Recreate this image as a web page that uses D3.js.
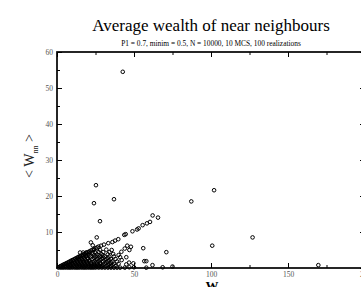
<!DOCTYPE html>
<html>
<head>
<meta charset="utf-8">
<script src="https://cdn.jsdelivr.net/npm/d3@7"></script>
<style>
  body { margin: 0; background: #fff; }
  svg { display: block; }
  text { font-family: "Liberation Serif", "DejaVu Serif", serif; }
</style>
</head>
<body>
<div class="chart"></div>
<script>
// values: [W, <Wnn>]
var outliers = [
    [42.7, 54.5], [25.3, 23.0], [24, 18], [37, 19.1], [27.9, 13], [25.8, 8.5],
    [87.2, 18.5], [102, 21.6], [100.8, 6.2], [71, 4.4], [127, 8.5], [169.7, 0.8],
    [62.1, 14.6], [65.6, 14.0], [62, 0.8], [68.6, 0.2], [75, 0.4]
];
var upperRay = [
    [2, 0.45], [3, 0.66], [4, 0.9], [5, 1.1], [6, 1.3], [7, 1.55], [8, 1.75], [9, 2.0],
    [10, 2.2], [11, 2.4], [12, 2.65], [13, 2.85], [14, 3.1], [15, 3.3], [16, 3.5],
    [17, 3.75], [18, 3.95], [19, 4.2], [20, 4.4], [21, 4.6], [22, 4.85], [23, 5.05],
    [24, 5.3], [25, 5.5], [26, 5.7], [27, 5.95], [28.6, 6.2], [30.5, 6.5], [33.3, 6.9],
    [36, 7.2], [37.7, 7.6], [39.8, 8], [43.7, 9.2], [44.6, 9.4], [49, 10.2], [52, 10.7],
    [53, 11], [55.6, 11.9], [58.4, 12.4], [60.4, 12.8]
];
var wedge = [
    [1, 0.1], [2.5, 0.1], [4, 0.1], [5.5, 0.1], [7, 0.1], [8.5, 0.1], [10, 0.1], [11.5, 0.1],
    [13, 0.1], [14.5, 0.1], [16, 0.1], [17.5, 0.1], [19, 0.1], [20.5, 0.1], [22, 0.1],
    [23.5, 0.1], [25, 0.1], [27, 0.1], [29, 0.1], [31, 0.1], [33, 0.1], [35, 0.1], [37, 0.1],
    [39, 0.1], [41, 0.1], [44, 0.1], [47, 0.2], [50, 0.2], [58, 0.1],
    [2, 0.35], [4, 0.35], [6, 0.35], [8, 0.35], [10, 0.35], [12, 0.35], [14, 0.35], [16, 0.35],
    [18, 0.35], [20, 0.35], [22, 0.35], [24, 0.35], [26, 0.35], [28, 0.35], [30, 0.35], [34, 0.35],
    [3, 0.6], [5, 0.6], [7, 0.6], [9, 0.6], [11, 0.6], [13, 0.6], [15, 0.6], [17, 0.6],
    [19, 0.6], [21, 0.6], [23, 0.6], [25, 0.6], [27, 0.6], [29, 0.6], [32, 0.6], [35, 0.6], [38, 0.6],
    [4.5, 0.9], [6.5, 0.9], [8.5, 0.9], [10.5, 0.9], [12.5, 0.9], [14.5, 0.9], [16.5, 0.9],
    [18.5, 0.9], [20.5, 0.9], [22.5, 0.9], [24.5, 0.9], [27, 0.9], [30, 0.9], [33, 0.9], [36, 0.9],
    [6, 1.2], [8, 1.2], [10, 1.2], [12, 1.2], [14, 1.2], [16, 1.2], [18, 1.2], [20, 1.2],
    [22, 1.2], [24, 1.2], [26, 1.2], [28, 1.2], [31, 1.2], [34, 1.2], [37, 1.2], [40, 1.2], [45, 1.0],
    [7.5, 1.5], [9.5, 1.5], [11.5, 1.5], [13.5, 1.5], [15.5, 1.5], [17.5, 1.5], [19.5, 1.5],
    [22, 1.5], [25, 1.5], [28, 1.5], [32, 1.5], [35, 1.5],
    [9, 1.8], [11, 1.8], [13, 1.8], [15, 1.8], [17, 1.8], [19, 1.8], [21, 1.8], [24, 1.8],
    [27, 1.8], [30, 1.8], [33, 1.8], [36, 1.8], [39, 1.8], [46.8, 1.5], [49.6, 1.3],
    [10.5, 2.15], [12.5, 2.15], [14.5, 2.15], [16.5, 2.15], [18.5, 2.15], [21, 2.15], [25, 2.15],
    [28, 2.15], [31, 2.15], [34, 2.15],
    [12, 2.5], [14, 2.5], [16, 2.5], [18, 2.5], [20, 2.5], [23, 2.5], [26, 2.5], [29, 2.5],
    [32, 2.5], [35, 2.5], [38, 2.5], [42, 2.2], [56.7, 1.9], [58, 1.9],
    [13.5, 2.85], [15.5, 2.85], [17.5, 2.85], [20, 2.85], [24, 2.85], [27, 2.85], [30, 2.85], [33, 2.85],
    [15, 3.2], [17, 3.2], [19, 3.2], [22, 3.2], [25, 3.2], [28, 3.2], [31, 3.2], [34, 3.2],
    [37, 3.2], [41, 3.0], [45, 3.0],
    [16.5, 3.5], [19, 3.5], [21, 3.5], [24, 3.5], [27, 3.5], [30, 3.5],
    [18, 3.8], [20, 3.8], [23, 3.8], [26, 3.8], [29, 3.8], [33, 3.8], [36.5, 3.9], [40, 3.6],
    [15, 4.3], [17, 4.3], [19, 4.3], [21, 4.3], [23, 4.3], [25, 4.3], [27, 4.5], [30, 4.4],
    [34, 4.4], [41.8, 4.5], [24, 5.0], [28, 5.0], [32, 5.1], [35.5, 5.0], [44, 5.4],
    [47, 5.0], [45.6, 6.2], [48, 5.9], [56, 5.5], [22, 7.1], [23.2, 6.3]
];
var xMajor = [0, 50, 100, 150, 200];
var xMinor = [25, 75, 125, 175];
var yMajor = [0, 10, 20, 30, 40, 50, 60];
var yMinor = [5, 15, 25, 35, 45, 55];

var width = 361, height = 287;
var svg = d3.select(".chart").append("svg")
    .attr("width", width)
    .attr("height", height);

var x = d3.scaleLinear().domain([0, 200]).range([57, 365]);
var y = d3.scaleLinear().domain([0, 60]).range([268, 52]);

// title + subtitle
svg.append("text")
    .attr("x", 211).attr("y", 31)
    .attr("text-anchor", "middle")
    .style("font-size", "17px")
    .text("Average wealth of near neighbours");
svg.append("text")
    .attr("x", 211).attr("y", 46)
    .attr("text-anchor", "middle")
    .style("font-size", "7.4px")
    .text("P1 = 0.7,  minim = 0.5,  N = 10000,  10 MCS,  100 realizations");

// points
var all = wedge.concat(upperRay, outliers);
svg.append("g").selectAll("circle")
    .data(all)
    .enter().append("circle")
    .attr("cx", function(d) { return x(d[0]); })
    .attr("cy", function(d) { return y(d[1]); })
    .attr("r", 1.8)
    .style("fill", "none")
    .style("stroke", "#000")
    .style("stroke-width", 1);

// axes, ticks pointing inward
function styleAxis(g) {
    g.select(".domain").remove();
    g.selectAll(".tick line").style("stroke", "#000").style("stroke-width", 1);
    g.selectAll(".tick text").style("font-family", "Liberation Serif")
        .style("font-size", "7.5px").style("fill", "#555");
}

svg.append("g").attr("transform", "translate(0,268)")
    .call(d3.axisBottom(x).tickValues(xMajor).tickSize(-5).tickPadding(3.5))
    .call(styleAxis);
svg.append("g").attr("transform", "translate(0,268)")
    .call(d3.axisBottom(x).tickValues(xMinor).tickSize(-3).tickFormat(""))
    .call(styleAxis);
svg.append("g").attr("transform", "translate(0,52)")
    .call(d3.axisTop(x).tickValues(xMajor).tickSize(-5).tickFormat(""))
    .call(styleAxis);
svg.append("g").attr("transform", "translate(0,52)")
    .call(d3.axisTop(x).tickValues(xMinor).tickSize(-3).tickFormat(""))
    .call(styleAxis);

svg.append("g").attr("transform", "translate(57,0)")
    .call(d3.axisLeft(y).tickValues(yMajor.slice(1)).tickSize(-5).tickPadding(4))
    .call(styleAxis);
svg.append("g").attr("transform", "translate(57,0)")
    .call(d3.axisLeft(y).tickValues(yMinor).tickSize(-3).tickFormat(""))
    .call(styleAxis);
svg.append("g").attr("transform", "translate(365,0)")
    .call(d3.axisRight(y).tickValues(yMajor).tickSize(-5).tickFormat(""))
    .call(styleAxis);
svg.append("g").attr("transform", "translate(365,0)")
    .call(d3.axisRight(y).tickValues(yMinor).tickSize(-3).tickFormat(""))
    .call(styleAxis);

// frame
svg.append("rect")
    .attr("x", x(0)).attr("y", y(60))
    .attr("width", x(200) - x(0)).attr("height", y(0) - y(60))
    .style("fill", "none")
    .style("stroke", "#000")
    .style("stroke-width", 1.7);

// axis labels
svg.append("text")
    .attr("x", 212).attr("y", 290)
    .attr("text-anchor", "middle")
    .style("font-size", "13px")
    .style("font-weight", "bold")
    .text("W");

var yl = svg.append("text")
    .attr("transform", "translate(34,156) rotate(-90)")
    .attr("text-anchor", "middle")
    .style("font-size", "14px")
    .style("fill", "#222");
yl.append("tspan").text("< W");
yl.append("tspan").attr("dy", 4).style("font-size", "8px").text("nn");
yl.append("tspan").attr("dy", -4).text(" >");
</script>
</body>
</html>
